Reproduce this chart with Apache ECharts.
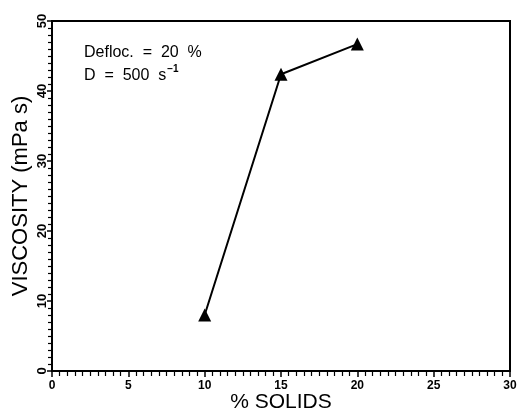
<!DOCTYPE html>
<html>
<head>
<meta charset="utf-8">
<script src="https://cdn.jsdelivr.net/npm/echarts@6/dist/echarts.min.js"></script>
<style>
  html, body { margin: 0; padding: 0; background: #fff; }
  #main { width: 517px; height: 411px; }
</style>
</head>
<body>
<div id="main"></div>
<script>
// 数据
var solids = [10, 15, 20];
var viscosity = [8.0, 42.4, 46.7];
var xTicks = [0, 5, 10, 15, 20, 25, 30];
var yTicks = [0, 10, 20, 30, 40, 50];

var font = 'Liberation Sans, Arial, sans-serif';

var pts = [];
solids.forEach(function(v, i){
    pts.push([v, viscosity[i]]);
});

var myChart = echarts.init(document.getElementById('main'));

var option = {
    backgroundColor: '#fff',
    animation: false,
    grid: {
        left: 52, right: 7, top: 21, bottom: 40,
        outerBoundsMode: 'none',
        containLabel: false,
        show: true, borderColor: '#000', borderWidth: 2
    },
    xAxis: {
        type: 'value',
        min: xTicks[0], max: xTicks[xTicks.length - 1], interval: 5,
        name: '% SOLIDS',
        nameLocation: 'middle',
        nameGap: 21,
        nameMoveOverlap: false,
        nameTextStyle: { color: '#000', fontSize: 21, fontFamily: font },
        axisLine: { lineStyle: { color: '#000', width: 2 } },
        axisTick: { show: true, length: 6, lineStyle: { color: '#000', width: 1.5 } },
        minorTick: { show: true, splitNumber: 10, length: 5, lineStyle: { color: '#000', width: 1.2 } },
        axisLabel: { color: '#000', fontSize: 12, fontFamily: font, fontWeight: 'bold', margin: 9 },
        splitLine: { show: false }
    },
    yAxis: {
        type: 'value',
        min: yTicks[0], max: yTicks[yTicks.length - 1], interval: 10,
        name: 'VISCOSITY (mPa s)',
        nameLocation: 'middle',
        nameGap: 20,
        nameMoveOverlap: false,
        nameTextStyle: { color: '#000', fontSize: 22, fontFamily: font },
        axisLine: { lineStyle: { color: '#000', width: 2 } },
        axisTick: { show: true, length: 5, lineStyle: { color: '#000', width: 1.5 } },
        minorTick: { show: true, splitNumber: 10, length: 4, lineStyle: { color: '#000', width: 1.2 } },
        axisLabel: { color: '#000', fontSize: 13, fontFamily: font, fontWeight: 'bold', rotate: 90, margin: 3 },
        splitLine: { show: false }
    },
    graphic: [{
        type: 'text',
        left: 84, top: 41,
        style: {
            text: 'Defloc.  =  20  %\n{n|D  =  500  s}{s|−1}',
            fill: '#000',
            font: '16px ' + font,
            lineHeight: 23,
            rich: {
                n: { fontSize: 16, fontFamily: font, fill: '#000' },
                s: { fontSize: 10, fontFamily: font, fill: '#000', fontWeight: 'bold', verticalAlign: 'top', padding: [0, 0, 9, 1] }
            }
        }
    }],
    series: [{
        type: 'line',
        data: pts,
        symbol: 'triangle',
        symbolSize: 13,
        lineStyle: { color: '#000', width: 2 },
        itemStyle: { color: '#000' }
    }]
};

myChart.setOption(option);
</script>
</body>
</html>
